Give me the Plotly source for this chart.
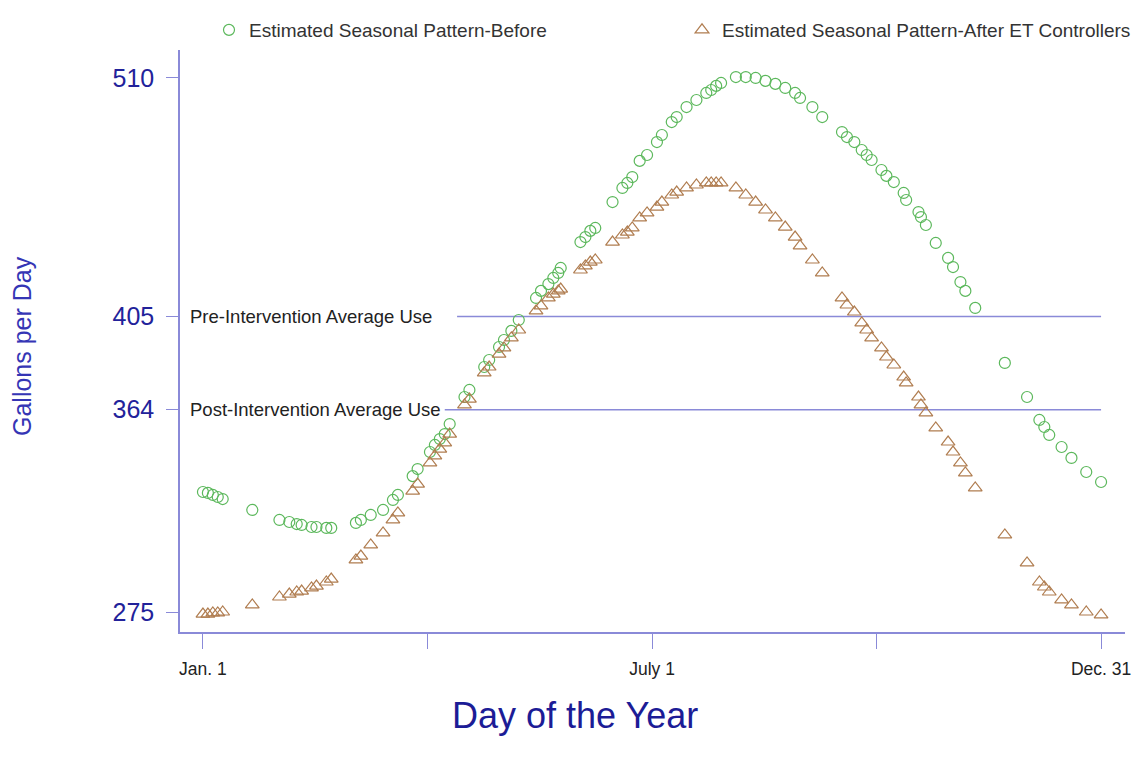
import plotly.graph_objects as go

days = [1,3,5,7,9,21,32,36,39,41,45,47,51,53,63,65,69,74,78,80,86,88,93,95,97,99,101,107,109,115,117,121,123,126,129,136,138,141,143,145,146,154,156,158,160,167,171,173,175,178,181,185,187,191,193,197,201,205,207,209,211,217,221,225,229,233,237,241,243,248,252,260,262,265,268,270,272,276,278,281,285,286,291,292,294,298,303,305,308,310,314,326,335,340,342,344,349,353,359,365]

before = [327.8,327.4,326.5,325.6,324.7,319.9,315.5,314.6,313.7,313.3,312.4,312.4,312.0,312.0,314.2,315.5,317.7,319.9,324.3,326.5,334.8,337.9,345.4,348.5,351.1,353.3,357.7,369.6,372.7,382.8,385.9,391.6,394.7,398.7,403.5,413.2,416.3,419.3,422.0,424.2,426.4,437.8,440.0,442.7,444.0,455.4,461.6,463.8,466.4,473.5,476.1,481.8,484.9,490.6,492.8,497.2,500.3,503.4,504.7,506.5,507.8,510.4,510.4,510.0,508.7,507.4,505.6,503.4,501.2,497.2,492.8,486.2,484.0,481.8,478.3,476.1,473.9,469.5,466.9,464.2,459.4,456.3,451.0,448.8,445.3,437.4,430.8,426.8,420.2,416.3,408.8,384.6,369.6,359.5,356.4,352.9,347.6,342.8,336.6,332.2]

after = [274.1,274.1,274.6,274.6,275.0,278.1,281.6,282.9,283.8,284.2,285.6,286.4,288.2,289.5,297.9,299.6,304.5,309.8,315.5,318.6,328.2,331.3,340.6,343.7,346.7,349.4,353.3,366.1,368.7,380.2,382.8,388.5,391.2,395.6,399.1,407.5,409.7,413.2,414.9,416.3,417.1,425.5,427.3,429.0,429.9,437.8,440.9,442.2,444.0,448.4,450.6,453.2,455.4,458.5,459.8,461.6,462.9,463.8,463.8,463.8,463.8,461.6,458.5,455.4,451.9,448.4,444.4,440.0,436.1,429.9,424.2,413.2,410.1,407.0,402.2,399.1,395.6,391.2,387.2,383.7,378.4,375.8,369.6,366.1,362.6,356.0,349.8,345.4,340.6,336.2,329.6,308.9,296.6,288.2,286.0,283.8,280.3,278.1,275.0,273.7]

y_ticks = [275, 364, 405, 510]
x_tickvals = [1, 92, 183, 274, 365]
x_ticktext = ["Jan. 1", "", "July 1", "", "Dec. 31"]

pre_avg = 405
post_avg = 364
pre_label = "Pre-Intervention Average Use"
post_label = "Post-Intervention Average Use"
pre_line_start = 104
post_line_start = 99
line_end = 365

AXIS = "#8a8ad8"
GREEN = "#5cb85c"
BROWN = "#b07d50"
FONT = "Liberation Sans, Arial, sans-serif"

# page body has an 8px margin; figure placed at (8, 8)
OFF = 8
W, H = 1140 - OFF, 772 - OFF
PL, PR, PT, PB = 180, 1125, 50, 632   # plot area in screen pixels
PW, PH = PR - PL, PB - PT

fig = go.Figure()
fig.add_trace(go.Scatter(
    x=days, y=before, mode="markers", name="Estimated Seasonal Pattern-Before", legend="legend",
    marker=dict(symbol="circle-open", size=11, color=GREEN, line=dict(width=1.2, color=GREEN)),
))
fig.add_trace(go.Scatter(
    x=days, y=after, mode="markers", name="Estimated Seasonal Pattern-After ET Controllers", legend="legend2",
    marker=dict(symbol="triangle-up-open", size=12, color=BROWN, line=dict(width=1.2, color=BROWN)),
))

for val, start in [(pre_avg, pre_line_start), (post_avg, post_line_start)]:
    fig.add_shape(type="line", xref="x", yref="y", x0=start, x1=line_end, y0=val, y1=val,
                  line=dict(color=AXIS, width=1.5), layer="below")

for val, txt in [(pre_avg, pre_label), (post_avg, post_label)]:
    fig.add_annotation(xref="paper", yref="y", x=(190 - PL) / PW, y=val, text=txt, showarrow=False,
                       xanchor="left", yanchor="middle", xshift=-2,
                       font=dict(family=FONT, size=18.5, color="#222222"))

fig.add_annotation(xref="paper", yref="paper", x=(575 - PL) / PW, y=-(715 - PB) / PH,
                   text="Day of the Year", showarrow=False, xanchor="center", yanchor="middle",
                   font=dict(family=FONT, size=36, color="#1c1c96"))

fig.add_annotation(xref="paper", yref="paper", x=(22 - PL) / PW, y=(PB - 346) / PH,
                   text="Gallons per Day", textangle=-90, showarrow=False,
                   xanchor="center", yanchor="middle",
                   font=dict(family=FONT, size=25, color="#3535b5"))

leg_common = dict(orientation="h", xref="container", yref="container", yanchor="middle",
                  xanchor="left", font=dict(family=FONT, size=19, color="#333333"),
                  bgcolor="rgba(0,0,0,0)", itemwidth=30)

fig.update_layout(
    width=W, height=H,
    margin=dict(l=PL - OFF, r=W - (PR - OFF), t=PT - OFF, b=H - (PB - OFF), autoexpand=False),
    plot_bgcolor="white", paper_bgcolor="white",
    font=dict(family=FONT),
    showlegend=True,
    legend=dict(x=(209 - OFF) / W, y=1 - (30 - OFF) / H, **leg_common),
    legend2=dict(x=(682 - OFF) / W, y=1 - (30 - OFF) / H, **leg_common),
    xaxis=dict(range=[-8.3, 374.7], showgrid=False, zeroline=False, showline=True,
               linecolor=AXIS, linewidth=1.5, ticks="outside", ticklen=15, tickcolor=AXIS,
               tickwidth=1.2, tickvals=x_tickvals, ticktext=x_ticktext,
               tickfont=dict(family=FONT, size=17.5, color="#222222"), ticklabelstandoff=5),
    yaxis=dict(range=[266.2, 522.3], showgrid=False, zeroline=False, showline=True,
               linecolor=AXIS, linewidth=1.5, ticks="outside", ticklen=12, tickcolor=AXIS,
               tickwidth=1.2, tickvals=y_ticks, ticklabelstandoff=7,
               tickfont=dict(family=FONT, size=25, color="#22229a")),
)

fig.write_html("out.html")
